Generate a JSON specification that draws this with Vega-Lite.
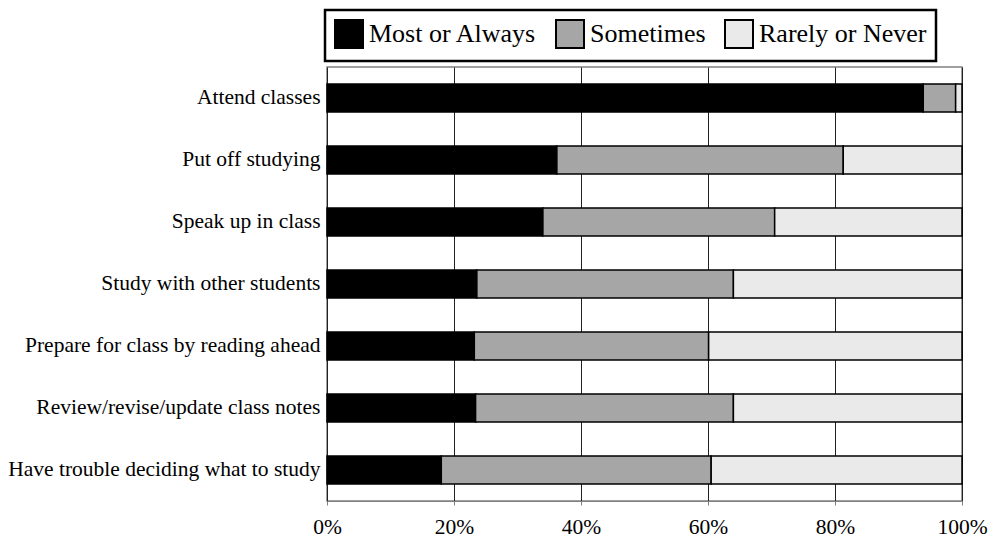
{
  "$schema": "https://vega.github.io/schema/vega-lite/v6.json",
  "width": 635,
  "height": 434,
  "autosize": {"type": "none"},
  "padding": {"left": 327, "top": 67, "right": 28, "bottom": 36},
  "background": "white",
  "config": {
    "font": "Liberation Serif",
    "view": {"stroke": "#808080", "strokeWidth": 1.5}
  },
  "data": {
    "values": [
      {"activity": "Attend classes", "response": "Most or Always", "o": 1, "pct": 93.9},
      {"activity": "Attend classes", "response": "Sometimes", "o": 2, "pct": 5.1},
      {"activity": "Attend classes", "response": "Rarely or Never", "o": 3, "pct": 1.0},
      {"activity": "Put off studying", "response": "Most or Always", "o": 1, "pct": 36.2},
      {"activity": "Put off studying", "response": "Sometimes", "o": 2, "pct": 45.1},
      {"activity": "Put off studying", "response": "Rarely or Never", "o": 3, "pct": 18.7},
      {"activity": "Speak up in class", "response": "Most or Always", "o": 1, "pct": 34.0},
      {"activity": "Speak up in class", "response": "Sometimes", "o": 2, "pct": 36.5},
      {"activity": "Speak up in class", "response": "Rarely or Never", "o": 3, "pct": 29.5},
      {"activity": "Study with other students", "response": "Most or Always", "o": 1, "pct": 23.6},
      {"activity": "Study with other students", "response": "Sometimes", "o": 2, "pct": 40.4},
      {"activity": "Study with other students", "response": "Rarely or Never", "o": 3, "pct": 36.0},
      {"activity": "Prepare for class by reading ahead", "response": "Most or Always", "o": 1, "pct": 23.2},
      {"activity": "Prepare for class by reading ahead", "response": "Sometimes", "o": 2, "pct": 36.9},
      {"activity": "Prepare for class by reading ahead", "response": "Rarely or Never", "o": 3, "pct": 39.9},
      {"activity": "Review/revise/update class notes", "response": "Most or Always", "o": 1, "pct": 23.4},
      {"activity": "Review/revise/update class notes", "response": "Sometimes", "o": 2, "pct": 40.6},
      {"activity": "Review/revise/update class notes", "response": "Rarely or Never", "o": 3, "pct": 36.0},
      {"activity": "Have trouble deciding what to study", "response": "Most or Always", "o": 1, "pct": 18.0},
      {"activity": "Have trouble deciding what to study", "response": "Sometimes", "o": 2, "pct": 42.5},
      {"activity": "Have trouble deciding what to study", "response": "Rarely or Never", "o": 3, "pct": 39.5}
    ]
  },
  "mark": {"type": "bar", "stroke": "black", "strokeWidth": 1.5},
  "encoding": {
    "y": {
      "field": "activity",
      "type": "nominal",
      "sort": null,
      "scale": {"paddingInner": 0.55, "paddingOuter": 0.275},
      "axis": {
        "title": null,
        "ticks": false,
        "domain": false,
        "labelFont": "Liberation Serif",
        "labelFontSize": 21.5,
        "labelColor": "black",
        "labelPadding": 7,
        "labelLimit": 400
      }
    },
    "x": {
      "field": "pct",
      "type": "quantitative",
      "stack": "zero",
      "scale": {"domain": [0, 100], "nice": false},
      "axis": {
        "title": null,
        "values": [0, 20, 40, 60, 80, 100],
        "labelExpr": "datum.value + '%'",
        "labelFont": "Liberation Serif",
        "labelFontSize": 21.5,
        "labelColor": "black",
        "labelPadding": 11,
        "labelFlush": false,
        "tickSize": 4,
        "tickColor": "#808080",
        "domainColor": "#808080",
        "gridColor": "#222222",
        "gridWidth": 1
      }
    },
    "color": {
      "field": "response",
      "type": "nominal",
      "scale": {
        "domain": ["Most or Always", "Sometimes", "Rarely or Never"],
        "range": ["#000000", "#a6a6a6", "#eaeaea"]
      },
      "legend": {
        "title": null,
        "orient": "none",
        "direction": "horizontal",
        "legendX": -2,
        "legendY": -57,
        "symbolType": "square",
        "symbolSize": 784,
        "symbolStrokeColor": "black",
        "symbolStrokeWidth": 2,
        "symbolOpacity": 1,
        "labelFont": "Liberation Serif",
        "labelFontSize": 26,
        "labelColor": "black",
        "labelOffset": 5,
        "labelLimit": 300,
        "columnPadding": 15,
        "padding": 9,
        "strokeColor": "black",
        "encode": {"legend": {"update": {"strokeWidth": {"value": 2.5}}}}
      }
    },
    "order": {"field": "o", "type": "quantitative"}
  }
}
